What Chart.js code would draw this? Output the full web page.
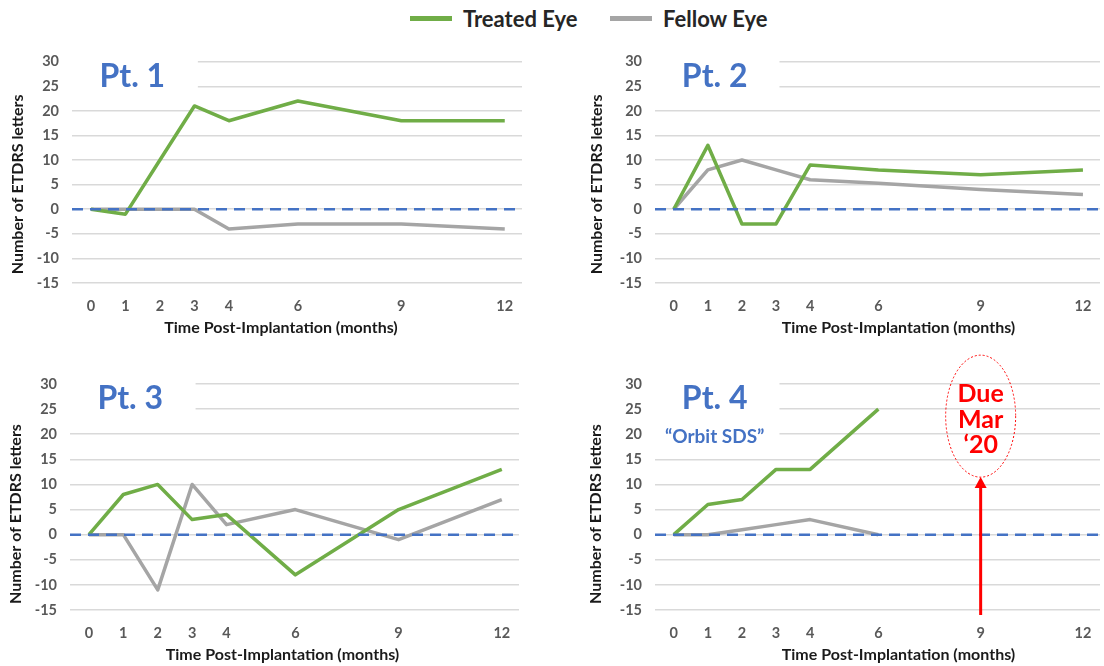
<!DOCTYPE html>
<html>
<head>
<meta charset="utf-8">
<script src="https://cdn.jsdelivr.net/npm/chart.js@4.4.1/dist/chart.umd.min.js"></script>
<style>
  body { margin: 0; background: #fff; }
  #wrap { position: relative; width: 1104px; height: 666px; font-family: Lato, "Open Sans", sans-serif; }
  .panel { position: absolute; }
  .lg { position: absolute; top: 5px; display: flex; align-items: center; font-weight: bold; font-size: 22px; color: #262626; }
  .lg span.sw { display: inline-block; width: 42px; height: 5px; margin-right: 11px; }
</style>
</head>
<body>
<div id="wrap">
  <div class="lg" style="left:410px"><span class="sw" style="background:#70AD47"></span>Treated Eye</div>
  <div class="lg" style="left:610px"><span class="sw" style="background:#A5A5A5"></span>Fellow Eye</div>
  <div class="panel" style="left:0;top:40px"><canvas id="p1" width="552" height="300"></canvas></div>
  <div class="panel" style="left:552px;top:40px"><canvas id="p2" width="552" height="300"></canvas></div>
  <div class="panel" style="left:0;top:340px"><canvas id="p3" width="552" height="326"></canvas></div>
  <div class="panel" style="left:552px;top:340px"><canvas id="p4" width="552" height="326"></canvas></div>
</div>
<script>
// months after implantation
const months = [0, 1, 2, 3, 4, 6, 9, 12];
const monthsPt4 = [0, 1, 2, 3, 4, 6];
const tickMonths = [0, 1, 2, 3, 4, 6, 9, 12];

// change in ETDRS letters
const pt1Treated = [0, -1, 10, 21, 18, 22, 18, 18];
const pt1Fellow  = [0, 0, 0, 0, -4, -3, -3, -4];
const pt2Treated = [0, 13, -3, -3, 9, 8, 7, 8];
const pt2Fellow  = [0, 8, 10, 8, 6, 5.3, 4, 3];
const pt3Treated = [0, 8, 10, 3, 4, -8, 5, 13];
const pt3Fellow  = [0, 0, -11, 10, 2, 5, -1, 7];
const pt4Treated = [0, 6, 7, 13, 13, 25];
const pt4Fellow  = [0, 0, 1, 2, 3, 0];

const xTitle = 'Time Post-Implantation (months)';
const yTitle = 'Number of ETDRS letters';

const GREEN = '#70AD47';
const GRAY = '#A5A5A5';
const BLUE = '#4472C4';
const RED = '#FF0000';
const FONT = 'Lato, "Open Sans", sans-serif';

const xMin = -0.55, xMax = 12.5;

function toPoints(xs, ys) {
  return xs.map((x, i) => ({ x: x, y: ys[i] }));
}

// white box behind the "Pt. N" caption, the caption, axis titles and the Pt. 4 note
const captionPlugin = {
  id: 'caption',
  beforeDatasetsDraw(chart, args, opts) {
    const { ctx, chartArea, scales: { x, y } } = chart;
    ctx.save();
    ctx.fillStyle = '#fff';
    const right = x.getPixelForValue(3.1);
    const bottom = y.getPixelForValue(opts.maskTo);
    ctx.fillRect(chartArea.left, chartArea.top - 4, right - chartArea.left, bottom - chartArea.top + 4);
    ctx.fillStyle = BLUE;
    ctx.font = 'bold 32px ' + FONT;
    ctx.textAlign = 'center';
    ctx.textBaseline = 'middle';
    ctx.fillText(opts.text, x.getPixelForValue(1.2), y.getPixelForValue(27));
    if (opts.sub) {
      ctx.font = 'bold 19px ' + FONT;
      ctx.fillText(opts.sub, x.getPixelForValue(1.2), y.getPixelForValue(19.5));
    }
    ctx.restore();
  },
  afterDraw(chart, args, opts) {
    const { ctx, chartArea, scales: { x, y } } = chart;
    ctx.save();
    // axis titles (Excel places them slightly off the plot centre)
    ctx.fillStyle = '#1a1a1a';
    ctx.font = 'bold 16px ' + FONT;
    ctx.textAlign = 'center';
    ctx.textBaseline = 'middle';
    ctx.fillText(xTitle, (chartArea.left + chartArea.right) / 2 + opts.xShift, chart.height - opts.xTitleUp);
    ctx.save();
    ctx.translate(opts.yTitleX, (chartArea.top + chartArea.bottom) / 2 + opts.yShift);
    ctx.rotate(-Math.PI / 2);
    ctx.fillText(yTitle, 0, 0);
    ctx.restore();

    if (opts.due) {
      const cx = x.getPixelForValue(9);
      const yTip = y.getPixelForValue(11.5);
      const yBase = y.getPixelForValue(-16);
      ctx.strokeStyle = RED;
      ctx.fillStyle = RED;
      ctx.lineWidth = 3;
      ctx.beginPath();
      ctx.moveTo(cx, yBase);
      ctx.lineTo(cx, yTip + 8);
      ctx.stroke();
      ctx.beginPath();
      ctx.moveTo(cx, yTip);
      ctx.lineTo(cx - 6, yTip + 11);
      ctx.lineTo(cx + 6, yTip + 11);
      ctx.closePath();
      ctx.fill();
      ctx.lineWidth = 1;
      ctx.setLineDash([2, 2]);
      ctx.beginPath();
      ctx.ellipse(cx, y.getPixelForValue(23.6), 35, 61, 0, 0, Math.PI * 2);
      ctx.stroke();
      ctx.setLineDash([]);
      ctx.font = 'bold 25px ' + FONT;
      ctx.fillText('Due', cx, y.getPixelForValue(28.1));
      ctx.fillText('Mar', cx, y.getPixelForValue(22.9));
      ctx.fillText('\u201820', cx, y.getPixelForValue(17.9));
    }
    ctx.restore();
  }
};

function makePanel(id, xs, treated, fellow, cfg) {
  new Chart(document.getElementById(id), {
    type: 'line',
    data: {
      datasets: [
        { label: 'zero', data: [{ x: xMin, y: 0 }, { x: xMax, y: 0 }], borderColor: BLUE,
          borderWidth: 2.5, borderDash: [11, 7], pointRadius: 0 },
        { label: 'Treated Eye', data: toPoints(xs, treated), borderColor: GREEN,
          borderWidth: 3.5, pointRadius: 0, borderJoinStyle: 'round' },
        { label: 'Fellow Eye', data: toPoints(xs, fellow), borderColor: GRAY,
          borderWidth: 3.5, pointRadius: 0, borderJoinStyle: 'round' }
      ]
    },
    options: {
      responsive: false,
      animation: false,
      layout: { padding: { left: cfg.padLeft, right: cfg.padRight, top: cfg.padTop, bottom: 0 } },
      plugins: {
        legend: { display: false },
        tooltip: { enabled: false },
        caption: {
          text: cfg.text, sub: cfg.sub, maskTo: cfg.maskTo, due: cfg.due,
          xShift: cfg.xShift, xTitleUp: cfg.xTitleUp, yShift: cfg.yShift, yTitleX: cfg.yTitleX
        }
      },
      scales: {
        x: {
          type: 'linear', min: xMin, max: xMax,
          afterBuildTicks: s => { s.ticks = tickMonths.map(v => ({ value: v })); },
          afterFit: s => { s.height = cfg.xHeight; },
          grid: { display: false },
          border: { display: false },
          ticks: { autoSkip: false, maxRotation: 0, padding: 7, color: '#595959',
                   font: { family: FONT, size: 14.5, weight: 'bold' } }
        },
        y: {
          min: -15, max: 30,
          afterFit: s => { s.width = cfg.yWidth; },
          grid: { color: '#D9D9D9', lineWidth: 1.5, drawTicks: false },
          border: { display: false },
          ticks: { stepSize: 5, padding: 13, color: '#595959',
                   font: { family: FONT, size: 14.5, weight: 'bold' } }
        }
      }
    },
    plugins: [captionPlugin]
  });
}

makePanel('p1', months, pt1Treated, pt1Fellow,
  { text: 'Pt. 1', maskTo: 22.5, padLeft: 0, padRight: 30, padTop: 17, xHeight: 57, yWidth: 72,
    xShift: -16, xTitleUp: 12, yShift: 12, yTitleX: 18 });
makePanel('p2', months, pt2Treated, pt2Fellow,
  { text: 'Pt. 2', maskTo: 22.5, padLeft: 31, padRight: 4, padTop: 17, xHeight: 57, yWidth: 72,
    xShift: 21, xTitleUp: 12, yShift: 12, yTitleX: 45 });
makePanel('p3', months, pt3Treated, pt3Fellow,
  { text: 'Pt. 3', maskTo: 22.5, padLeft: 0, padRight: 33, padTop: 44, xHeight: 56, yWidth: 70,
    xShift: -12, xTitleUp: 11, yShift: 17, yTitleX: 16 });
makePanel('p4', monthsPt4, pt4Treated, pt4Fellow,
  { text: 'Pt. 4', sub: '\u201cOrbit SDS\u201d', maskTo: 17.5, due: true,
    padLeft: 31, padRight: 4, padTop: 44, xHeight: 56, yWidth: 72,
    xShift: 21, xTitleUp: 11, yShift: 17, yTitleX: 44 });
</script>
</body>
</html>
